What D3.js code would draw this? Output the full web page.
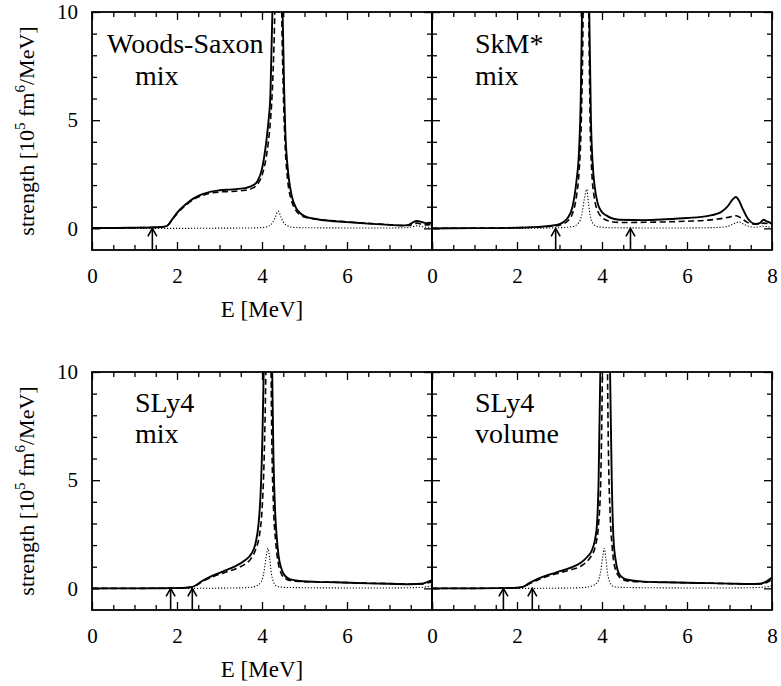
<!DOCTYPE html>
<html>
<head>
<meta charset="utf-8">
<script src="https://cdn.jsdelivr.net/npm/d3@7"></script>
<style>
  html, body { margin: 0; padding: 0; background: #fff; }
  svg { display: block; }
</style>
</head>
<body>
<svg id="chart" width="781" height="686"></svg>
<script>
// ---- strength functions, [E (MeV), strength (10^5 fm^6/MeV)] ----
// Woods-Saxon, mixed pairing
const wsTotal = [[0,0.02],[0.5,0.02],[1.0,0.03],[1.4,0.04],[1.6,0.06],[1.75,0.1],[1.9,0.45],[2.0,0.72],[2.2,1.1],[2.4,1.4],[2.6,1.58],[2.8,1.7],[3.0,1.76],[3.3,1.8],[3.6,1.86],[3.8,2.0],[3.9,2.2],[4.0,2.75],[4.1,4.0],[4.15,4.9],[4.2,6.3],[4.25,10.5],[4.3,16],[4.35,24],[4.38,26],[4.42,22],[4.45,14],[4.48,10.5],[4.52,6.5],[4.55,4.4],[4.6,2.9],[4.7,1.5],[4.8,0.95],[4.9,0.7],[5.0,0.57],[5.3,0.42],[5.7,0.33],[6.0,0.29],[6.5,0.22],[7.0,0.16],[7.3,0.13],[7.45,0.16],[7.55,0.28],[7.65,0.34],[7.75,0.3],[7.85,0.24],[8.0,0.26]];
const wsPartA = [[0,0.02],[0.5,0.02],[1.0,0.03],[1.4,0.04],[1.6,0.06],[1.75,0.1],[1.9,0.43],[2.0,0.68],[2.2,1.05],[2.4,1.35],[2.6,1.52],[2.8,1.63],[3.0,1.68],[3.3,1.71],[3.6,1.76],[3.8,1.88],[3.9,2.05],[4.0,2.45],[4.1,3.3],[4.15,4.0],[4.2,5.0],[4.25,6.7],[4.3,10],[4.35,17],[4.4,24],[4.43,20],[4.46,11],[4.5,6.5],[4.55,3.6],[4.6,2.3],[4.7,1.25],[4.8,0.82],[4.9,0.62],[5.0,0.52],[5.3,0.42],[5.7,0.35],[6.0,0.3],[6.5,0.23],[7.0,0.17],[7.3,0.13],[7.45,0.13],[7.55,0.2],[7.65,0.24],[7.75,0.2],[7.85,0.16],[8.0,0.2]];
const wsPartB = [[0,0],[1.0,0],[2.0,0],[3.0,0.01],[3.8,0.02],[4.1,0.06],[4.2,0.15],[4.3,0.45],[4.38,0.8],[4.45,0.5],[4.5,0.3],[4.6,0.12],[4.7,0.05],[5.0,0.03],[6.0,0.02],[7.0,0.02],[7.4,0.03],[7.55,0.08],[7.65,0.12],[7.75,0.08],[7.9,0.05],[8.0,0.06]];

// SkM*, mixed pairing
const skmTotal = [[0,0],[1.0,0.01],[2.0,0.03],[2.5,0.07],[2.8,0.12],[3.0,0.2],[3.1,0.3],[3.2,0.5],[3.3,0.95],[3.4,2.2],[3.46,3.6],[3.5,6],[3.53,10],[3.57,19],[3.61,24],[3.65,19],[3.7,10],[3.74,5],[3.78,3.0],[3.83,1.9],[3.9,1.15],[4.0,0.75],[4.1,0.6],[4.4,0.4],[5.0,0.38],[5.5,0.42],[6.0,0.48],[6.5,0.58],[6.8,0.75],[6.95,1.0],[7.08,1.35],[7.15,1.45],[7.22,1.3],[7.3,0.95],[7.4,0.55],[7.5,0.3],[7.62,0.2],[7.72,0.25],[7.8,0.4],[7.88,0.32],[8.0,0.22]];
const skmPartA = [[0,0],[1.0,0.01],[2.0,0.03],[2.5,0.06],[2.8,0.1],[3.0,0.15],[3.2,0.35],[3.3,0.65],[3.4,1.5],[3.46,2.6],[3.51,4.8],[3.55,9],[3.59,19],[3.62,25],[3.66,17],[3.69,10],[3.72,5],[3.76,2.6],[3.82,1.4],[3.9,0.8],[4.0,0.5],[4.2,0.32],[4.5,0.27],[5.0,0.28],[5.5,0.3],[6.0,0.33],[6.5,0.38],[6.8,0.45],[7.0,0.52],[7.15,0.58],[7.25,0.5],[7.4,0.3],[7.55,0.2],[7.7,0.2],[7.8,0.24],[7.9,0.22],[8.0,0.18]];
const skmPartB = [[0,0],[2.0,0],[3.0,0.03],[3.3,0.08],[3.45,0.25],[3.52,0.6],[3.58,1.3],[3.64,1.8],[3.68,1.2],[3.72,0.6],[3.78,0.25],[3.9,0.08],[4.2,0.03],[5.0,0.02],[6.0,0.02],[6.8,0.05],[7.0,0.12],[7.15,0.25],[7.22,0.3],[7.3,0.22],[7.45,0.1],[7.6,0.05],[7.8,0.1],[7.9,0.07],[8.0,0.05]];

// SLy4, mixed pairing
const slyMixTotal = [[0,0],[1.0,0],[1.8,0.01],[2.2,0.03],[2.35,0.06],[2.45,0.15],[2.6,0.35],[2.8,0.55],[3.0,0.72],[3.2,0.88],[3.4,1.05],[3.6,1.3],[3.75,1.6],[3.85,2.1],[3.92,3.0],[3.97,4.5],[4.01,7],[4.04,10],[4.09,18],[4.14,24],[4.19,18],[4.24,10],[4.27,6],[4.31,3.5],[4.35,2.3],[4.39,1.5],[4.45,0.95],[4.5,0.7],[4.65,0.43],[4.9,0.34],[5.3,0.3],[5.7,0.28],[6.5,0.23],[7.0,0.21],[7.5,0.19],[7.75,0.21],[7.9,0.3],[8.0,0.38]];
const slyMixPartA = [[0,0],[1.0,0],[1.8,0.01],[2.2,0.03],[2.35,0.06],[2.45,0.14],[2.6,0.32],[2.8,0.5],[3.0,0.65],[3.2,0.78],[3.4,0.92],[3.6,1.12],[3.75,1.4],[3.85,1.8],[3.95,2.6],[4.0,3.6],[4.05,6],[4.09,10],[4.13,18],[4.16,22],[4.2,13],[4.23,7],[4.27,3.8],[4.32,2.2],[4.38,1.2],[4.45,0.7],[4.55,0.45],[4.7,0.35],[4.9,0.32],[5.3,0.3],[5.7,0.28],[6.5,0.24],[7.0,0.22],[7.5,0.2],[7.75,0.2],[7.9,0.25],[8.0,0.3]];
const slyMixPartB = [[0,0],[2.0,0],[3.0,0.01],[3.6,0.03],[3.85,0.1],[3.98,0.3],[4.05,0.8],[4.1,1.5],[4.14,1.85],[4.18,1.4],[4.22,0.7],[4.27,0.3],[4.35,0.1],[4.5,0.05],[5.0,0.03],[6.0,0.02],[7.0,0.02],[7.7,0.04],[7.9,0.08],[8.0,0.12]];

// SLy4, volume pairing
const slyVolTotal = [[0,0],[1.0,0],[1.6,0.01],[2.0,0.03],[2.15,0.08],[2.3,0.25],[2.5,0.45],[2.7,0.6],[2.9,0.72],[3.1,0.85],[3.3,0.98],[3.5,1.18],[3.65,1.45],[3.76,1.75],[3.84,2.3],[3.88,2.9],[3.92,5],[3.96,10],[4.01,18],[4.07,23],[4.13,17],[4.19,10],[4.23,5],[4.27,2.3],[4.33,1.2],[4.39,0.72],[4.5,0.48],[4.6,0.4],[5.0,0.31],[5.5,0.28],[6.0,0.26],[6.5,0.24],[7.0,0.22],[7.5,0.2],[7.7,0.21],[7.85,0.3],[8.0,0.5]];
const slyVolPartA = [[0,0],[1.0,0],[1.6,0.01],[2.0,0.03],[2.15,0.07],[2.3,0.22],[2.5,0.4],[2.7,0.55],[2.9,0.66],[3.1,0.77],[3.3,0.88],[3.5,1.02],[3.65,1.25],[3.75,1.5],[3.85,2.0],[3.92,3.0],[3.97,5],[4.01,10],[4.05,18],[4.08,22],[4.12,12],[4.15,6.5],[4.19,3.5],[4.24,1.9],[4.3,1.0],[4.4,0.55],[4.5,0.4],[4.65,0.33],[5.0,0.3],[5.5,0.28],[6.0,0.26],[6.5,0.24],[7.0,0.22],[7.5,0.2],[7.7,0.2],[7.85,0.25],[8.0,0.42]];
const slyVolPartB = [[0,0],[2.0,0],[3.0,0.01],[3.5,0.03],[3.75,0.1],[3.9,0.3],[3.97,0.8],[4.02,1.5],[4.05,1.85],[4.09,1.4],[4.13,0.7],[4.18,0.3],[4.26,0.1],[4.4,0.05],[5.0,0.03],[6.0,0.02],[7.0,0.02],[7.7,0.04],[7.9,0.08],[8.0,0.12]];

// threshold energies (MeV) marked by arrows
const wsThresholds = [1.42];
const skmThresholds = [2.91, 4.67];
const slyMixThresholds = [1.85, 2.36];
const slyVolThresholds = [1.68, 2.36];

// panel captions
const wsCaption = ["Woods-Saxon", "mix"];
const skmCaption = ["SkM*", "mix"];
const slyMixCaption = ["SLy4", "mix"];
const slyVolCaption = ["SLy4", "volume"];

// axes
const energyDomain = [0, 8];
const strengthDomain = [-1, 10];
const xMajorTicks = [0, 2, 4, 6, 8];
const xMinorTicks = [0.5, 1, 1.5, 2.5, 3, 3.5, 4.5, 5, 5.5, 6.5, 7, 7.5];
const yMajorTicks = [0, 5, 10];
const yMinorTicks = [1, 2, 3, 4, 6, 7, 8, 9];
const xTitle = "E [MeV]";

// ---- layout ----
const serif = '"Liberation Serif", "Times New Roman", Tinos, serif';
const colX = [[92, 432], [432, 772]];
const rowY = [[250, 12], [610, 372]];
const captionPos = [[[15, 41], [43, 73]], [[43, 41], [43, 73]], [[43, 40], [43, 71]], [[43, 40], [43, 71]]];

const panels = [
  { row: 0, col: 0, total: wsTotal, a: wsPartA, b: wsPartB, thr: wsThresholds, cap: wsCaption },
  { row: 0, col: 1, total: skmTotal, a: skmPartA, b: skmPartB, thr: skmThresholds, cap: skmCaption },
  { row: 1, col: 0, total: slyMixTotal, a: slyMixPartA, b: slyMixPartB, thr: slyMixThresholds, cap: slyMixCaption },
  { row: 1, col: 1, total: slyVolTotal, a: slyVolPartA, b: slyVolPartB, thr: slyVolThresholds, cap: slyVolCaption }
];

const svg = d3.select("#chart").style("font-family", serif);
const tickFont = 21;

panels.forEach((p, i) => {
  const x = d3.scaleLinear().domain(energyDomain).range(colX[p.col]);
  const y = d3.scaleLinear().domain(strengthDomain).range(rowY[p.row]);
  const [x0, x1] = x.range();
  const [yb, yt] = y.range();
  const g = svg.append("g");

  const clipId = "clip" + i;
  g.append("clipPath").attr("id", clipId)
    .append("rect").attr("x", x0).attr("y", yt).attr("width", x1 - x0).attr("height", yb - yt);

  const line = d3.line().x(d => x(d[0])).y(d => y(d[1])).curve(d3.curveMonotoneX);
  const curves = g.append("g").attr("clip-path", `url(#${clipId})`).attr("fill", "none").attr("stroke", "#000");

  curves.append("path").attr("d", line(p.b))
    .attr("stroke-width", 1.1).attr("stroke-dasharray", "1.2,1.8");
  curves.append("path").attr("d", line(p.a))
    .attr("stroke-width", 1.6).attr("stroke-dasharray", "6,3.5");
  curves.append("path").attr("d", line(p.total))
    .attr("stroke-width", 1.9);

  // threshold arrows
  p.thr.forEach(e => {
    const ax = x(e), ay0 = y(-1), ay1 = y(0);
    g.append("line").attr("x1", ax).attr("x2", ax).attr("y1", ay0).attr("y2", ay1 + 1)
      .attr("stroke", "#000").attr("stroke-width", 1.6);
    g.append("path").attr("d", `M${ax - 4.5},${ay1 + 8} L${ax},${ay1} L${ax + 4.5},${ay1 + 8}`)
      .attr("fill", "none").attr("stroke", "#000").attr("stroke-width", 1.6);
  });

  // ticks on all four sides, pointing inward
  const styleAxis = sel => {
    sel.select(".domain").remove();
    sel.selectAll(".tick line").attr("stroke", "#000").attr("stroke-width", 1.3);
    sel.attr("font-family", null).attr("font-size", null);
    sel.selectAll("text").attr("fill", "#000")
      .style("font-family", serif).style("font-size", tickFont + "px");
  };

  g.append("g").attr("transform", `translate(0,${yb})`)
    .call(d3.axisBottom(x).tickValues(xMajorTicks).tickSizeInner(-8).tickSizeOuter(0).tickPadding(18)
      .tickFormat(d => (p.col === 0 && d === 8) ? "" : d3.format("d")(d)))
    .call(styleAxis);
  g.append("g").attr("transform", `translate(0,${yb})`)
    .call(d3.axisBottom(x).tickValues(xMinorTicks).tickSizeInner(-5).tickSizeOuter(0).tickFormat(""))
    .call(styleAxis);
  g.append("g").attr("transform", `translate(0,${yt})`)
    .call(d3.axisTop(x).tickValues(xMajorTicks).tickSizeInner(-8).tickSizeOuter(0).tickFormat(""))
    .call(styleAxis);
  g.append("g").attr("transform", `translate(0,${yt})`)
    .call(d3.axisTop(x).tickValues(xMinorTicks).tickSizeInner(-5).tickSizeOuter(0).tickFormat(""))
    .call(styleAxis);

  g.append("g").attr("transform", `translate(${x0},0)`)
    .call(d3.axisLeft(y).tickValues(yMajorTicks).tickSizeInner(-8).tickSizeOuter(0).tickPadding(14)
      .tickFormat(d => p.col === 0 ? d3.format("d")(d) : ""))
    .call(styleAxis);
  g.append("g").attr("transform", `translate(${x0},0)`)
    .call(d3.axisLeft(y).tickValues(yMinorTicks).tickSizeInner(-5).tickSizeOuter(0).tickFormat(""))
    .call(styleAxis);
  g.append("g").attr("transform", `translate(${x1},0)`)
    .call(d3.axisRight(y).tickValues(yMajorTicks).tickSizeInner(-8).tickSizeOuter(0).tickFormat(""))
    .call(styleAxis);
  g.append("g").attr("transform", `translate(${x1},0)`)
    .call(d3.axisRight(y).tickValues(yMinorTicks).tickSizeInner(-5).tickSizeOuter(0).tickFormat(""))
    .call(styleAxis);

  // frame
  g.append("rect").attr("x", x0).attr("y", yt).attr("width", x1 - x0).attr("height", yb - yt)
    .attr("fill", "none").attr("stroke", "#000").attr("stroke-width", 1.8);

  // caption
  p.cap.forEach((t, k) => {
    g.append("text").attr("x", x0 + captionPos[i][k][0]).attr("y", yt + captionPos[i][k][1])
      .style("font-family", serif).style("font-size", "28px").attr("fill", "#000").text(t);
  });

  // axis titles on the left column
  if (p.col === 0) {
    g.append("text").attr("x", (x0 + x1) / 2).attr("y", yb + 67)
      .style("font-family", serif).style("font-size", "23px")
      .attr("text-anchor", "middle").attr("fill", "#000").text(xTitle);

    const yl = g.append("text")
      .attr("transform", `translate(34,${(yb + yt) / 2}) rotate(-90)`)
      .style("font-family", serif).style("font-size", "22px")
      .attr("text-anchor", "middle").attr("fill", "#000");
    yl.append("tspan").text("strength [10");
    yl.append("tspan").style("font-size", "15px").attr("dy", -9).text("5");
    yl.append("tspan").attr("dy", 9).text(" fm");
    yl.append("tspan").style("font-size", "15px").attr("dy", -9).text("6");
    yl.append("tspan").attr("dy", 9).text("/MeV]");
  }
});
</script>
</body>
</html>
